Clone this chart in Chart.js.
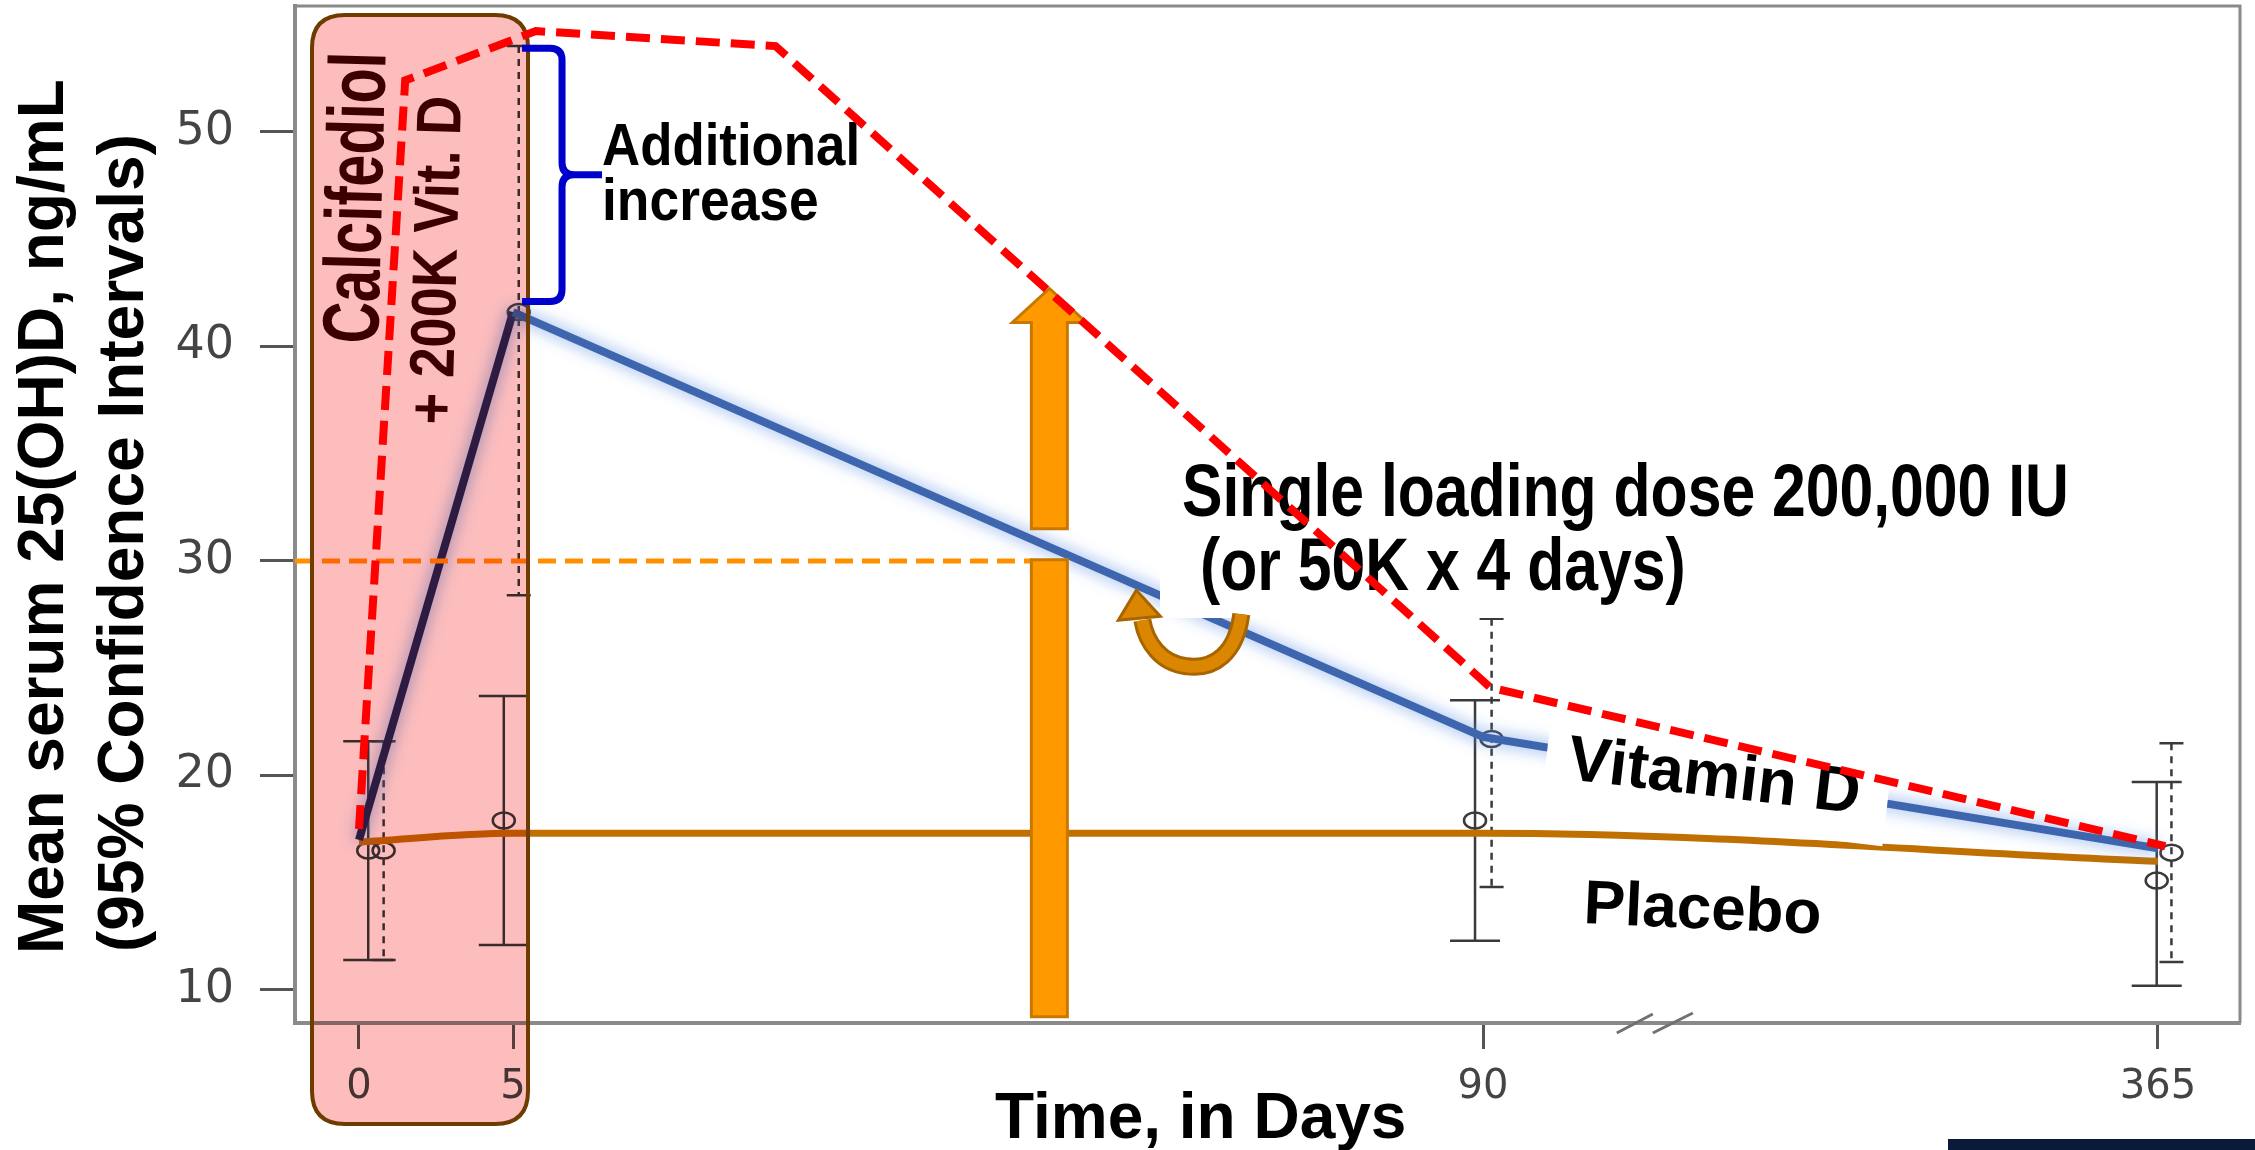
<!DOCTYPE html>
<html>
<head>
<meta charset="utf-8">
<title>Mean serum 25(OH)D after a loading dose</title>
<script src="https://cdn.jsdelivr.net/npm/chart.js@4.4.1/dist/chart.umd.min.js"></script>
<style>
  html, body { margin: 0; padding: 0; background: #fff; }
  #wrap { position: relative; width: 2255px; height: 1150px; }
</style>
</head>
<body>
<div id="wrap"><canvas id="chart"></canvas></div>
<script>
// --- data ---
var dayTicks = [0, 5, 90, 365];
var valueTicks = [10, 20, 30, 40, 50];

var trendDays = [0, 5, 90, 365];
var vitaminDTrend = [17.0, 41.6, 21.8, 16.6];
var placeboTrend = [16.9, 17.3, 17.3, 16.0];

// red dashed envelope (calcifediol + 200K vit. D)
var envelopeDays = [0, 1.5, 7, 28, 93, 368];
var envelopeValues = [17.5, 52.4, 54.7, 54.0, 24.1, 16.7];

// 95% confidence intervals (placebo solid, vitamin D dotted)
var placeboCiDays = [0.3, 4.7, 89.3, 364.5];
var placeboMean = [16.5, 17.9, 17.9, 15.1];
var placeboLow = [11.4, 12.1, 12.3, 10.2];
var placeboHigh = [21.6, 23.7, 23.5, 19.7];

var vitaminDCiDays = [0.8, 5.5, 93.5, 370.5];
var vitaminDMean = [16.5, 41.6, 21.7, 16.4];
var vitaminDLow = [11.4, 28.4, 14.8, 11.3];
var vitaminDHigh = [21.6, 54.0, 27.3, 21.5];

// annotations (in data units)
var targetLevel = 30;
var loadingDay = 52;
var arrowFrom = 8.75, arrowTo = 42.7;
var arrowGap = [30.05, 31.5];
var bracketRange = [42.1, 53.9];
var axisBreakDay = 160;

// broken time axis: knots of the piecewise scale
var AXIS_KNOT_DAYS = [-2.08, 0, 5, 90, 365, 398.4];
var AXIS_KNOT_FRAC = [0, 0.0329, 0.1121, 0.6108, 0.9578, 1];

var FONT = '"Liberation Sans", Arial, Helvetica, sans-serif';

class BrokenDayScale extends Chart.LinearScale {
  getPixelForValue(value) {
    if (value === null || value === undefined || isNaN(value)) return NaN;
    var d = AXIS_KNOT_DAYS, f = AXIS_KNOT_FRAC, i = 1;
    while (i < d.length - 1 && value > d[i]) i++;
    var t = (value - d[i - 1]) / (d[i] - d[i - 1]);
    return this.getPixelForDecimal(f[i - 1] + t * (f[i] - f[i - 1]));
  }
  getValueForPixel(pixel) {
    var dec = this.getDecimalForPixel(pixel);
    var d = AXIS_KNOT_DAYS, f = AXIS_KNOT_FRAC, i = 1;
    while (i < f.length - 1 && dec > f[i]) i++;
    var t = (dec - f[i - 1]) / (f[i] - f[i - 1]);
    return d[i - 1] + t * (d[i] - d[i - 1]);
  }
}
BrokenDayScale.id = 'brokenDays';
BrokenDayScale.defaults = Chart.LinearScale.defaults;
Chart.register(BrokenDayScale);

function points(xs, ys) {
  return xs.map(function (x, i) { return { x: x, y: ys[i] }; });
}

function drawText(ctx, text, x, y, o) {
  ctx.save();
  ctx.translate(x, y);
  if (o.angle) ctx.rotate(o.angle * Math.PI / 180);
  ctx.scale(o.sx || 1, 1);
  ctx.font = 'bold ' + o.size + 'px ' + FONT;
  ctx.fillStyle = o.color || '#000';
  ctx.textAlign = 'left';
  ctx.textBaseline = 'alphabetic';
  ctx.fillText(text, 0, 0);
  ctx.restore();
}

function drawCi(ctx, chart, days, mean, low, high, dashed) {
  var xs = chart.scales.x, ys = chart.scales.y;
  ctx.save();
  ctx.strokeStyle = '#3a3a3a';
  ctx.lineWidth = 2.5;
  for (var i = 0; i < days.length; i++) {
    var x = xs.getPixelForValue(days[i]);
    var yh = ys.getPixelForValue(high[i]);
    var yl = ys.getPixelForValue(low[i]);
    var ym = ys.getPixelForValue(mean[i]);
    var cap = dashed ? 12 : 25;
    ctx.setLineDash(dashed ? [7, 6] : []);
    ctx.beginPath();
    ctx.moveTo(x, yh);
    ctx.lineTo(x, yl);
    ctx.stroke();
    ctx.setLineDash([]);
    ctx.beginPath();
    ctx.moveTo(x - cap, yh); ctx.lineTo(x + cap, yh);
    ctx.moveTo(x - cap, yl); ctx.lineTo(x + cap, yl);
    ctx.stroke();
    ctx.beginPath();
    ctx.ellipse(x, ym, 11, 8, 0, 0, Math.PI * 2);
    ctx.stroke();
  }
  ctx.restore();
}

function roundRectPath(ctx, x, y, w, h, r) {
  ctx.beginPath();
  ctx.moveTo(x + r, y);
  ctx.lineTo(x + w - r, y);
  ctx.quadraticCurveTo(x + w, y, x + w, y + r);
  ctx.lineTo(x + w, y + h - r);
  ctx.quadraticCurveTo(x + w, y + h, x + w - r, y + h);
  ctx.lineTo(x + r, y + h);
  ctx.quadraticCurveTo(x, y + h, x, y + h - r);
  ctx.lineTo(x, y + r);
  ctx.quadraticCurveTo(x, y, x + r, y);
  ctx.closePath();
}

function drawAnnotations(chart) {
  var ctx = chart.ctx, xs = chart.scales.x, ys = chart.scales.y, area = chart.chartArea;
  var ax = xs.getPixelForValue(loadingDay), hw = 18;

  // 30 ng/mL target line
  ctx.save();
  ctx.strokeStyle = '#FF9000';
  ctx.lineWidth = 5;
  ctx.setLineDash([18, 9]);
  ctx.beginPath();
  ctx.moveTo(area.left, ys.getPixelForValue(targetLevel));
  ctx.lineTo(ax - hw, ys.getPixelForValue(targetLevel));
  ctx.stroke();
  ctx.restore();

  // pink calcifediol box (multiplied over the plot)
  var x0 = xs.getPixelForValue(0), x5 = xs.getPixelForValue(5);
  var bx = x0 - 47, bw = x5 + 15 - bx, by = area.top + 9, bh = chart.height - 26 - by;
  ctx.save();
  ctx.globalCompositeOperation = 'multiply';
  roundRectPath(ctx, bx, by, bw, bh, 33);
  ctx.fillStyle = '#FDBDBD';
  ctx.fill();
  ctx.restore();
  ctx.save();
  roundRectPath(ctx, bx, by, bw, bh, 33);
  ctx.strokeStyle = '#6E3C00';
  ctx.lineWidth = 4;
  ctx.stroke();
  ctx.restore();

  // white label backgrounds
  ctx.save();
  ctx.fillStyle = '#fff';
  ctx.fillRect(1160, 440, 935, 178);
  ctx.translate(1566, 779);
  ctx.rotate(6.7 * Math.PI / 180);
  ctx.fillRect(-22, -60, 344, 90);
  ctx.restore();

  // vertical loading-dose arrow
  var yBottom = ys.getPixelForValue(arrowFrom);
  var yTip = ys.getPixelForValue(arrowTo);
  var yGapLo = ys.getPixelForValue(arrowGap[0]);
  var yGapHi = ys.getPixelForValue(arrowGap[1]);
  var yHead = yTip + 34, headW = 37;
  ctx.save();
  ctx.fillStyle = '#FF9900';
  ctx.strokeStyle = '#C87800';
  ctx.lineWidth = 3;
  ctx.beginPath();
  ctx.rect(ax - hw, yGapLo, hw * 2, yBottom - yGapLo);
  ctx.fill(); ctx.stroke();
  ctx.beginPath();
  ctx.moveTo(ax - hw, yGapHi);
  ctx.lineTo(ax - hw, yHead);
  ctx.lineTo(ax - headW, yHead);
  ctx.lineTo(ax, yTip);
  ctx.lineTo(ax + headW, yHead);
  ctx.lineTo(ax + hw, yHead);
  ctx.lineTo(ax + hw, yGapHi);
  ctx.closePath();
  ctx.fill(); ctx.stroke();
  ctx.restore();

  // small U-turn arrow
  var ux = xs.getPixelForValue(64), uy = ys.getPixelForValue(25);
  ctx.save();
  ctx.lineCap = 'butt';
  [['#A86400', 18], ['#DB8600', 12]].forEach(function (s) {
    ctx.strokeStyle = s[0];
    ctx.lineWidth = s[1];
    ctx.beginPath();
    ctx.moveTo(ux + 55, uy - 54);
    ctx.bezierCurveTo(ux + 50, uy - 15, ux + 28, uy + 2, ux, uy - 2);
    ctx.bezierCurveTo(ux - 25, uy - 5, ux - 40, uy - 25, ux - 44, uy - 48);
    ctx.stroke();
  });
  ctx.fillStyle = '#DB8600';
  ctx.strokeStyle = '#A86400';
  ctx.lineWidth = 3;
  ctx.beginPath();
  ctx.moveTo(ux - 50, uy - 78);
  ctx.lineTo(ux - 68, uy - 48);
  ctx.lineTo(ux - 26, uy - 52);
  ctx.closePath();
  ctx.fill(); ctx.stroke();
  ctx.restore();

  // blue bracket "additional increase"
  var bTop = ys.getPixelForValue(bracketRange[1]);
  var bBot = ys.getPixelForValue(bracketRange[0]);
  var bMid = (bTop + bBot) / 2, right = bx + bw, r = 12;
  ctx.save();
  ctx.strokeStyle = '#0000CD';
  ctx.lineWidth = 7;
  ctx.lineJoin = 'round';
  ctx.beginPath();
  ctx.moveTo(right - 6, bTop);
  ctx.lineTo(right + 34 - r, bTop);
  ctx.quadraticCurveTo(right + 34, bTop, right + 34, bTop + r);
  ctx.lineTo(right + 34, bMid - r);
  ctx.quadraticCurveTo(right + 34, bMid, right + 46, bMid);
  ctx.lineTo(right + 74, bMid);
  ctx.moveTo(right + 46, bMid);
  ctx.quadraticCurveTo(right + 34, bMid, right + 34, bMid + r);
  ctx.lineTo(right + 34, bBot - r);
  ctx.quadraticCurveTo(right + 34, bBot, right + 34 - r, bBot);
  ctx.lineTo(right - 6, bBot);
  ctx.stroke();
  ctx.restore();

  // texts
  drawText(ctx, 'Mean serum 25(OH)D, ng/mL', 63, 954, { size: 64, angle: -90 });
  drawText(ctx, '(95% Confidence Intervals)', 143, 952, { size: 64, angle: -90 });
  drawText(ctx, 'Time, in Days', 995, 1138, { size: 64 });
  drawText(ctx, 'Calcifediol', 378, 344, { size: 80, angle: -88.5, sx: 0.72, color: '#3C0000' });
  drawText(ctx, '+ 200K Vit. D', 452, 425, { size: 63, angle: -88.4, sx: 0.86, color: '#3C0000' });
  drawText(ctx, 'Additional', 602, 165, { size: 60, sx: 0.88 });
  drawText(ctx, 'increase', 602, 220, { size: 60, sx: 0.89 });
  drawText(ctx, 'Single loading dose 200,000 IU', 1182, 516, { size: 74, sx: 0.82 });
  drawText(ctx, '(or 50K x 4 days)', 1200, 590, { size: 74, sx: 0.82 });
  drawText(ctx, 'Vitamin D', 1566, 779, { size: 64, angle: 6.7 });
  drawText(ctx, 'Placebo', 1583, 923, { size: 62, angle: 2.6 });
}

var figurePlugin = {
  id: 'figure',
  beforeDraw: function (chart) {
    var ctx = chart.ctx;
    ctx.save();
    ctx.fillStyle = '#fff';
    ctx.fillRect(0, 0, chart.width, chart.height);
    ctx.restore();
  },
  beforeDatasetsDraw: function (chart) {
    var ctx = chart.ctx, area = chart.chartArea, xs = chart.scales.x;
    // box frame (top and right)
    ctx.save();
    ctx.strokeStyle = '#8a8a8a';
    ctx.lineWidth = 3;
    ctx.beginPath();
    ctx.moveTo(area.left, area.top);
    ctx.lineTo(area.right, area.top);
    ctx.lineTo(area.right, area.bottom);
    ctx.stroke();
    // axis break
    var bx = xs.getPixelForValue(axisBreakDay);
    ctx.strokeStyle = '#707070';
    ctx.beginPath();
    ctx.moveTo(bx - 38, area.bottom + 10); ctx.lineTo(bx - 2, area.bottom - 9);
    ctx.moveTo(bx - 2, area.bottom + 10); ctx.lineTo(bx + 38, area.bottom - 10);
    ctx.stroke();
    ctx.restore();
    drawCi(ctx, chart, placeboCiDays, placeboMean, placeboLow, placeboHigh, false);
    drawCi(ctx, chart, vitaminDCiDays, vitaminDMean, vitaminDLow, vitaminDHigh, true);
  },
  beforeDatasetDraw: function (chart, args) {
    var ctx = chart.ctx;
    if (args.index === 1) {
      ctx.save();
      ctx.shadowColor = 'rgba(95,145,230,0.85)';
      ctx.shadowBlur = 16;
    }
    if (args.index === 2) drawAnnotations(chart);
  },
  afterDatasetDraw: function (chart, args) {
    if (args.index === 1) chart.ctx.restore();
  },
  afterDatasetsDraw: function (chart) {
    var ctx = chart.ctx;
    ctx.save();
    ctx.fillStyle = '#0B1A3A';
    ctx.fillRect(1948, 1139, 307, 11);
    ctx.restore();
  }
};

var tickFont = { family: '"DejaVu Sans", sans-serif' };

new Chart(document.getElementById('chart'), {
  type: 'line',
  data: {
    datasets: [
      {
        label: 'Placebo',
        data: points(trendDays, placeboTrend),
        borderColor: '#C07000',
        borderWidth: 7,
        pointRadius: 0,
        cubicInterpolationMode: 'monotone',
        order: 3
      },
      {
        label: 'Vitamin D',
        data: points(trendDays, vitaminDTrend),
        borderColor: '#3E66AE',
        borderWidth: 8,
        pointRadius: 0,
        tension: 0,
        order: 2,
        segment: {
          borderColor: function (c) { return c.p0DataIndex === 0 ? '#2E2458' : undefined; }
        }
      },
      {
        label: 'Calcifediol + 200K Vit. D',
        data: points(envelopeDays, envelopeValues),
        borderColor: '#FF0000',
        borderWidth: 8,
        borderDash: [24, 11],
        pointRadius: 0,
        tension: 0,
        order: 1
      }
    ]
  },
  options: {
    responsive: true,
    maintainAspectRatio: false,
    animation: false,
    events: [],
    layout: { padding: { top: 6, right: 15, left: 0, bottom: 0 } },
    plugins: { legend: { display: false }, tooltip: { enabled: false } },
    scales: {
      x: {
        type: 'brokenDays',
        min: AXIS_KNOT_DAYS[0],
        max: AXIS_KNOT_DAYS[AXIS_KNOT_DAYS.length - 1],
        afterBuildTicks: function (axis) {
          axis.ticks = dayTicks.map(function (v) { return { value: v }; });
        },
        afterFit: function (axis) {
          axis.height = 127;
          axis.paddingLeft = 0;
          axis.paddingRight = 0;
        },
        grid: { drawOnChartArea: false, drawTicks: true, tickLength: 26, tickColor: '#555', tickWidth: 3 },
        border: { display: true, color: '#8a8a8a', width: 4 },
        ticks: {
          autoSkip: false, maxRotation: 0, padding: 15, color: '#444',
          font: Object.assign({ size: 40 }, tickFont)
        }
      },
      y: {
        type: 'linear',
        min: 8.46,
        max: 55.87,
        afterBuildTicks: function (axis) {
          axis.ticks = valueTicks.map(function (v) { return { value: v }; });
        },
        afterFit: function (axis) {
          axis.width = 295;
          axis.paddingTop = 0;
          axis.paddingBottom = 0;
        },
        grid: { drawOnChartArea: false, drawTicks: true, tickLength: 35, tickColor: '#555', tickWidth: 3 },
        border: { display: true, color: '#8a8a8a', width: 4 },
        ticks: {
          padding: 26, color: '#444',
          font: Object.assign({ size: 46 }, tickFont)
        }
      }
    }
  },
  plugins: [figurePlugin]
});
</script>
</body>
</html>
